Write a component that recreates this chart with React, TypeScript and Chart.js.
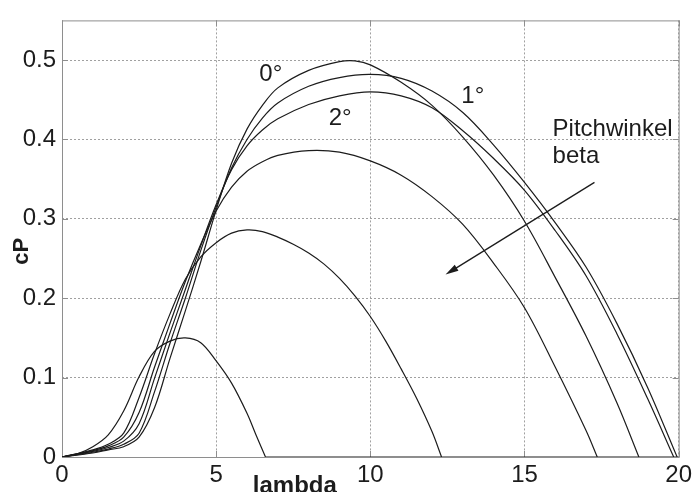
import { useEffect, useRef } from "react";
import { Chart, registerables } from "chart.js";

Chart.register(...registerables);

// ---- data ----
// pitch 0°
const lambda0 = [0, 1, 1.5, 2, 2.5, 3, 3.5, 4, 4.5, 5, 5.5, 6, 6.5, 7, 8, 9, 9.5, 10, 11, 12, 13, 14, 15, 16, 17, 18, 18.71];
const cp0 = [0, 0.005, 0.009, 0.013, 0.025, 0.062, 0.124, 0.184, 0.246, 0.311, 0.37, 0.413, 0.443, 0.465, 0.487, 0.498, 0.499, 0.494, 0.472, 0.443, 0.403, 0.355, 0.297, 0.226, 0.152, 0.068, 0];
// pitch 1°
const lambda1 = [0, 1, 1.5, 2, 2.5, 3, 3.5, 4, 4.5, 5, 5.5, 6, 6.5, 7, 8, 9, 10, 11, 12, 13, 14, 15, 16, 17, 18, 19, 19.95];
const cp1 = [0, 0.006, 0.01, 0.016, 0.03, 0.082, 0.143, 0.2, 0.26, 0.315, 0.364, 0.4, 0.427, 0.446, 0.467, 0.478, 0.482, 0.477, 0.461, 0.434, 0.393, 0.346, 0.295, 0.239, 0.168, 0.087, 0];
// pitch 2°
const lambda2 = [0, 1, 1.5, 2, 2.5, 3, 3.5, 4, 4.5, 5, 5.5, 6, 6.5, 7, 8, 9, 10, 11, 12, 13, 14, 15, 16, 17, 18, 19, 19.84];
const cp2 = [0, 0.007, 0.012, 0.02, 0.042, 0.099, 0.156, 0.211, 0.266, 0.318, 0.362, 0.392, 0.412, 0.426, 0.444, 0.455, 0.46, 0.455, 0.44, 0.411, 0.376, 0.336, 0.285, 0.228, 0.155, 0.073, 0];
// larger pitch angles
const lambda3 = [0, 1, 1.5, 2, 2.5, 3, 3.5, 4, 4.5, 5, 5.5, 6, 6.5, 7, 8, 9, 10, 11, 12, 13, 14, 15, 16, 17, 17.36];
const cp3 = [0, 0.008, 0.014, 0.025, 0.056, 0.113, 0.168, 0.221, 0.268, 0.31, 0.34, 0.36, 0.372, 0.38, 0.386, 0.384, 0.373, 0.355, 0.328, 0.293, 0.244, 0.188, 0.113, 0.033, 0];
const lambda4 = [0, 1, 1.5, 2, 2.5, 3, 3.5, 4, 4.5, 5, 5.5, 6, 6.5, 7, 7.5, 8, 8.5, 9, 9.5, 10, 10.5, 11, 11.5, 12, 12.31];
const cp4 = [0, 0.009, 0.016, 0.03, 0.075, 0.13, 0.18, 0.224, 0.252, 0.27, 0.282, 0.286, 0.284, 0.277, 0.268, 0.257, 0.243, 0.225, 0.203, 0.177, 0.146, 0.111, 0.074, 0.032, 0];
const lambda5 = [0, 0.5, 1, 1.5, 2, 2.5, 3, 3.5, 4, 4.5, 5, 5.5, 6, 6.3, 6.6];
const cp5 = [0, 0.004, 0.013, 0.028, 0.058, 0.101, 0.133, 0.146, 0.15, 0.144, 0.121, 0.093, 0.055, 0.027, 0];

const xTicks = [0, 5, 10, 15, 20];
const yTicks = [0, 0.1, 0.2, 0.3, 0.4, 0.5];

// ---- annotation positions (data units) ----
const curveLabels = [
  { text: "0°", x: 6.4, y: 0.474 },
  { text: "1°", x: 12.95, y: 0.4456 },
  { text: "2°", x: 8.65, y: 0.418 },
  { text: "Pitchwinkel", x: 15.91, y: 0.4046 },
  { text: "beta", x: 15.91, y: 0.3698 },
];
const arrowFrom = { x: 17.27, y: 0.346 };
const arrowTo = { x: 12.44, y: 0.2298 };
const xTitle = { text: "lambda", x: 7.55 };
const yTitle = { text: "cP", y: 0.259 };

const FONT = '"Liberation Sans", Arial, Helvetica, sans-serif';
const INK = "#1c1c1c";
const FRAME = "#8e8e8e";

const framePlugin = {
  id: "frame",
  beforeDatasetsDraw(chart: any) {
    const { ctx, chartArea: a, scales } = chart;
    ctx.save();
    ctx.strokeStyle = FRAME;
    ctx.lineWidth = 1;
    ctx.strokeRect(a.left + 0.5, a.top + 0.5, a.right - a.left, a.bottom - a.top);
    ctx.beginPath();
    const tl = 6;
    xTicks.forEach((v) => {
      const px = Math.round(scales.x.getPixelForValue(v)) + 0.5;
      ctx.moveTo(px, a.bottom);
      ctx.lineTo(px, a.bottom - tl);
      ctx.moveTo(px, a.top);
      ctx.lineTo(px, a.top + tl);
    });
    yTicks.forEach((v) => {
      const py = Math.round(scales.y.getPixelForValue(v)) + 0.5;
      ctx.moveTo(a.left, py);
      ctx.lineTo(a.left + tl, py);
      ctx.moveTo(a.right, py);
      ctx.lineTo(a.right - tl, py);
    });
    ctx.stroke();
    ctx.restore();
  },
};

const annotationPlugin = {
  id: "annotations",
  afterDatasetsDraw(chart: any) {
    const { ctx, chartArea: a, scales } = chart;
    const X = (v: number) => scales.x.getPixelForValue(v);
    const Y = (v: number) => scales.y.getPixelForValue(v);
    ctx.save();
    ctx.fillStyle = INK;
    ctx.textBaseline = "alphabetic";
    ctx.textAlign = "left";
    ctx.font = `24px ${FONT}`;
    curveLabels.forEach((l) => ctx.fillText(l.text, X(l.x), Y(l.y)));

    // arrow
    const x1 = X(arrowFrom.x), y1 = Y(arrowFrom.y);
    const x2 = X(arrowTo.x), y2 = Y(arrowTo.y);
    const ang = Math.atan2(y2 - y1, x2 - x1);
    const hl = 13, hw = 3.5;
    ctx.strokeStyle = INK;
    ctx.lineWidth = 1.3;
    ctx.beginPath();
    ctx.moveTo(x1, y1);
    ctx.lineTo(x2 - Math.cos(ang) * hl * 0.8, y2 - Math.sin(ang) * hl * 0.8);
    ctx.stroke();
    ctx.beginPath();
    ctx.moveTo(x2, y2);
    ctx.lineTo(x2 - Math.cos(ang) * hl - Math.sin(ang) * hw, y2 - Math.sin(ang) * hl + Math.cos(ang) * hw);
    ctx.lineTo(x2 - Math.cos(ang) * hl + Math.sin(ang) * hw, y2 - Math.sin(ang) * hl - Math.cos(ang) * hw);
    ctx.closePath();
    ctx.fill();

    // axis titles
    ctx.font = `bold 24px ${FONT}`;
    ctx.textAlign = "center";
    ctx.fillText(xTitle.text, X(xTitle.x), a.bottom + 36);
    ctx.save();
    ctx.translate(28, Y(yTitle.y));
    ctx.rotate(-Math.PI / 2);
    ctx.font = `bold 22px ${FONT}`;
    ctx.fillText(yTitle.text, 0, 0);
    ctx.restore();
    ctx.restore();
  },
};

export default function App() {
  const ref = useRef<HTMLCanvasElement>(null);
  useEffect(() => {
    document.body.style.margin = "0";
    const canvas = ref.current!;
    const mk = (xs: number[], ys: number[]) => xs.map((x, i) => ({ x, y: ys[i] }));
    const curves: [number[], number[]][] = [
      [lambda0, cp0],
      [lambda1, cp1],
      [lambda2, cp2],
      [lambda3, cp3],
      [lambda4, cp4],
      [lambda5, cp5],
    ];
    const datasets: any[] = curves.map(([xs, ys]) => ({
      data: mk(xs, ys),
      borderColor: INK,
      borderWidth: 1.2,
      pointRadius: 0,
      fill: false,
      tension: 0.35,
    }));
    // flat part of the curves after they reach zero
    datasets.push({
      data: [
        { x: lambda5[lambda5.length - 1], y: 0 },
        { x: xTicks[xTicks.length - 1], y: 0 },
      ],
      borderColor: INK,
      borderWidth: 1.2,
      pointRadius: 0,
      fill: false,
      tension: 0,
    });

    const tickFont = { family: FONT, size: 24 };
    const chart = new Chart(canvas, {
      type: "line",
      data: { datasets },
      options: {
        animation: false,
        responsive: false,
        events: [],
        plugins: { legend: { display: false }, tooltip: { enabled: false } },
        layout: { padding: { top: 15, right: 14, left: 0, bottom: 0 } },
        scales: {
          x: {
            type: "linear",
            min: 0,
            max: 20,
            afterBuildTicks: (s: any) => {
              s.ticks = xTicks.map((v) => ({ value: v }));
            },
            afterFit: (s: any) => {
              s.height = 35;
            },
            grid: { color: "#a0a0a0", drawTicks: false, lineWidth: 1, borderDash: [2, 2] } as any,
            border: { display: false, dash: [2, 2] },
            ticks: { font: tickFont, color: INK, padding: 4, maxRotation: 0, autoSkip: false, callback: (v: any) => String(v) },
          },
          y: {
            type: "linear",
            min: 0,
            max: 0.55,
            afterBuildTicks: (s: any) => {
              s.ticks = yTicks.map((v) => ({ value: v }));
            },
            afterFit: (s: any) => {
              s.width = 62;
            },
            grid: { color: "#a0a0a0", drawTicks: false, lineWidth: 1, borderDash: [2, 2] } as any,
            border: { display: false, dash: [2, 2] },
            ticks: { font: tickFont, color: INK, padding: 6, autoSkip: false, callback: (v: any) => String(v) },
          },
        },
      } as any,
      plugins: [framePlugin, annotationPlugin],
    });
    return () => chart.destroy();
  }, []);
  return <canvas ref={ref} width={696} height={492} style={{ display: "block" }} />;
}
